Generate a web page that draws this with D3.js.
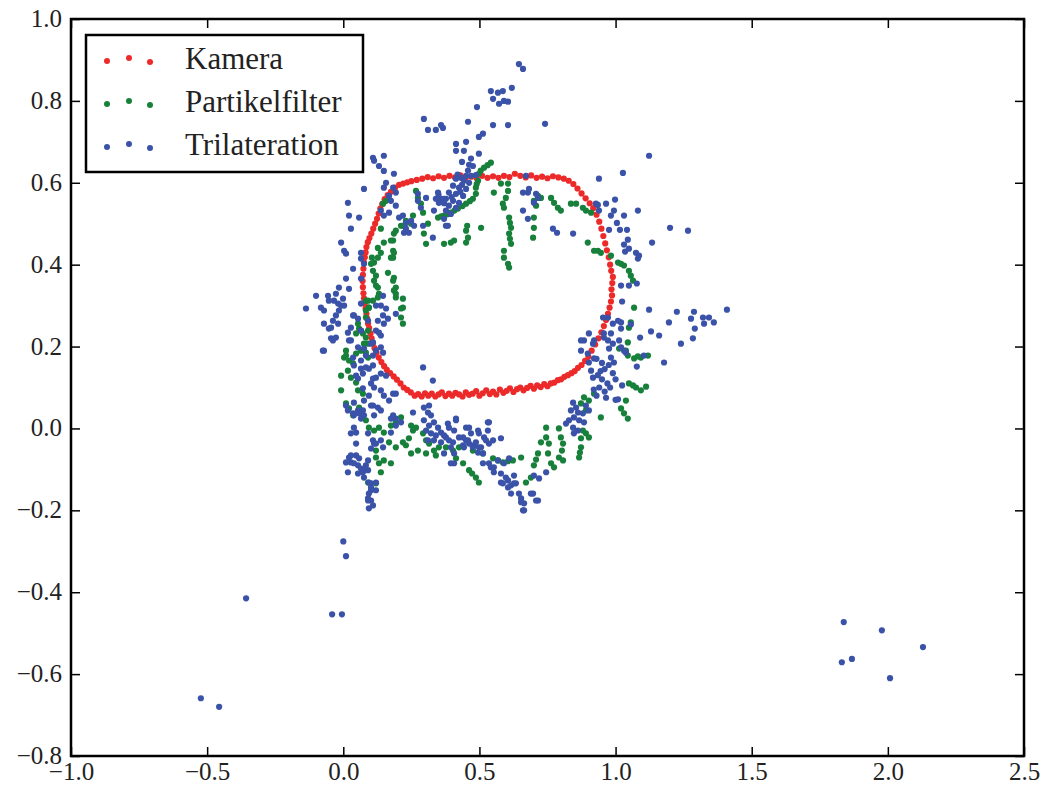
<!DOCTYPE html>
<html>
<head>
<meta charset="utf-8">
<script src="https://cdn.jsdelivr.net/npm/d3@7"></script>
<style>
body { margin: 0; background: #fff; }
svg { font-family: "Liberation Serif", "DejaVu Serif", serif; }
</style>
</head>
<body>
<svg width="1047" height="786"></svg>
<script>
// tick values
var xTicks = [-1.0, -0.5, 0.0, 0.5, 1.0, 1.5, 2.0, 2.5];
var yTicks = [-0.8, -0.6, -0.4, -0.2, 0.0, 0.2, 0.4, 0.6, 0.8, 1.0];
var seriesNames = ["Kamera", "Partikelfilter", "Trilateration"];
var seriesColors = ["#ec2a2a", "#17803b", "#3a52a8"];

// camera track
var kamera = [
[0.205,0.595],[0.19,0.588],[0.175,0.578],[0.163,0.57],[0.152,0.56],[0.143,0.548],[0.136,0.537],[0.13,0.525],[0.124,0.512],[0.117,0.5],[0.11,0.488],[0.103,0.476],[0.096,0.465],[0.09,0.455],[0.085,0.443],[0.082,0.43],[0.079,0.418],[0.076,0.405],[0.074,0.39],[0.072,0.375],[0.071,0.36],[0.072,0.345],[0.074,0.33],[0.076,0.318],[0.079,0.305],[0.082,0.293],[0.085,0.28],[0.088,0.268],[0.091,0.256],[0.095,0.245],[0.1,0.232],[0.104,0.22],[0.109,0.208],[0.115,0.196],[0.122,0.185],[0.13,0.173],[0.14,0.162],[0.15,0.152],[0.16,0.143],[0.172,0.135],[0.185,0.127],[0.197,0.119],[0.21,0.11],[0.222,0.1],[0.235,0.094],[0.248,0.088],
[0.262,0.080],[0.275,0.084],[0.288,0.078],[0.300,0.086],[0.312,0.080],[0.325,0.085],[0.338,0.078],[0.350,0.083],[0.362,0.088],[0.375,0.079],[0.388,0.085],[0.400,0.080],[0.412,0.087],[0.425,0.083],[0.438,0.078],[0.450,0.088],[0.462,0.082],[0.475,0.085],[0.488,0.091],[0.500,0.080],[0.512,0.086],[0.525,0.093],[0.538,0.084],[0.550,0.090],[0.562,0.083],[0.575,0.095],[0.588,0.087],[0.600,0.092],[0.612,0.098],[0.625,0.089],[0.638,0.096],[0.650,0.100],[0.662,0.093],[0.675,0.099],[0.688,0.104],[0.700,0.097],[0.712,0.105],[0.725,0.101],[0.738,0.108],[0.750,0.103],[0.762,0.110],[0.775,0.112],[0.788,0.118],[0.800,0.120],[0.812,0.126],[0.825,0.130],[0.838,0.135],[0.850,0.140],[0.862,0.148],[0.875,0.155],[0.888,0.165],
[0.9,0.175],[0.912,0.19],[0.925,0.205],[0.937,0.22],[0.948,0.235],[0.957,0.25],[0.965,0.265],[0.972,0.28],[0.978,0.295],[0.983,0.31],[0.987,0.325],[0.985,0.34],[0.988,0.355],[0.99,0.37],[0.984,0.385],[0.98,0.4],[0.975,0.418],[0.968,0.435],[0.962,0.452],[0.955,0.47],[0.948,0.488],[0.94,0.505],[0.93,0.522],[0.918,0.538],[0.905,0.55],[0.89,0.562],[0.875,0.574],[0.86,0.586],[0.845,0.597],[0.828,0.605],[0.81,0.61],
[0.79,0.613],[0.77,0.616],[0.75,0.611],[0.73,0.615],[0.71,0.612],[0.69,0.618],[0.67,0.613],[0.65,0.617],[0.63,0.622],[0.61,0.614],[0.59,0.617],[0.57,0.612],[0.55,0.616],[0.53,0.612],[0.51,0.617],[0.49,0.611],[0.47,0.615],[0.45,0.612],[0.43,0.618],[0.41,0.613],[0.39,0.617],[0.37,0.612],[0.35,0.616],[0.33,0.611],[0.31,0.614],[0.29,0.61],[0.27,0.607],[0.25,0.604],[0.235,0.601],[0.22,0.598]
];

// particle filter estimate
var partikelfilter = [
[0.542,0.649],[0.53,0.643],[0.517,0.637],[0.505,0.63],[0.498,0.622],[0.495,0.605],[0.49,0.597],[0.487,0.588],[0.487,0.573],[0.476,0.561],[0.465,0.555],[0.451,0.549],[0.438,0.543],[0.421,0.537],[0.408,0.532],[0.395,0.527],[0.382,0.523],[0.370,0.520],[0.36,0.518],[0.348,0.515],
[0.267,0.580],[0.274,0.563],[0.285,0.549],[0.311,0.500],[0.296,0.476],[0.304,0.451],[0.249,0.500],[0.230,0.507],[0.212,0.495],[0.193,0.483],[0.186,0.476],[0.149,0.454],[0.138,0.429],[0.127,0.417],[0.113,0.405],[0.109,0.385],[0.113,0.361],[0.127,0.344],[0.131,0.329],[0.183,0.459],[0.183,0.434],[0.183,0.417],[0.164,0.380],[0.183,0.361],[0.186,0.337],[0.193,0.320],[0.219,0.317],[0.212,0.293],[0.212,0.271],[0.146,0.549],[0.157,0.556],[0.138,0.488],[0.293,0.527],[0.256,0.520],[0.219,0.495],[0.175,0.459],[0.186,0.429],[0.12,0.373],[0.12,0.349],[0.102,0.402],[0.127,0.441],[0.105,0.417],[0.175,0.417],[0.186,0.368],[0.193,0.344],
[0.370,0.451],[0.395,0.454],[0.407,0.459],[0.451,0.483],[0.458,0.466],[0.451,0.454],[0.506,0.490],[0.455,0.495],[0.553,0.576],[0.579,0.598],[0.605,0.598],[0.605,0.580],[0.597,0.563],[0.586,0.549],[0.590,0.539],[0.609,0.515],[0.616,0.490],[0.609,0.476],[0.616,0.451],[0.590,0.434],[0.590,0.417],[0.605,0.402],[0.609,0.393],[0.612,0.502],[0.612,0.463],[0.700,0.556],[0.708,0.544],[0.700,0.515],[0.700,0.490],[0.697,0.466],[0.715,0.568],[0.726,0.563],[0.763,0.563],[0.774,0.551],[0.788,0.539],[0.799,0.532],[0.836,0.549],[0.855,0.549],[0.880,0.539],[0.910,0.527],[0.891,0.532],
[0.898,0.454],[0.921,0.434],[0.946,0.429],[0.983,0.422],[0.935,0.434],[1.009,0.405],[1.031,0.398],[1.049,0.385],[1.064,0.361],[1.056,0.373],[1.02,0.402],[1.068,0.295],[1.049,0.246],[1.056,0.259],[1.045,0.210],[1.013,0.195],[1.038,0.190],[1.045,0.178],[1.068,0.171],[1.093,0.173],[1.119,0.178],[1.082,0.176],[1.049,0.110],[1.075,0.100],[1.093,0.093],[1.112,0.102],[1.064,0.105],[1.038,0.068],[1.020,0.049],[1.031,0.037],[1.045,0.024],[0.946,0.027],[0.884,0.076],[0.902,0.068],[0.921,0.085],[0.873,0.061],[0.891,0.044],
[0.880,-0.005],[0.873,-0.024],[0.873,-0.046],[0.866,-0.071],[0.891,-0.012],[0.902,-0.022],[0.869,-0.059],[0.792,0],[0.799,-0.022],[0.807,-0.037],[0.807,-0.078],[0.792,-0.071],[0.803,-0.054],[0.745,0.002],[0.745,-0.022],[0.726,-0.034],[0.715,-0.061],[0.700,-0.090],[0.689,-0.120],[0.671,-0.132],[0.708,-0.076],[0.755,-0.037],[0.752,-0.061],[0.763,-0.085],[0.774,-0.095],
[0.377,-0.046],[0.403,-0.054],[0.414,-0.073],[0.440,-0.085],[0.462,-0.102],[0.487,-0.120],[0.498,-0.132],[0.473,-0.11],[0.425,-0.046],[0.476,-0.054],[0.513,-0.061],[0.550,-0.073],[0.586,-0.083],[0.623,-0.078],[0.653,-0.071],[0.605,-0.08],[0.568,-0.078],
[0.083,0.312],[0.083,0.288],[0.094,0.295],[0.109,0.312],[0.127,0.320],[0.193,0.329],[0.219,0.295],[0.219,0.256],[0.058,0.244],[0.072,0.232],[0.083,0.222],[0.091,0.207],[0.083,0.185],[0.091,0.173],[0.010,0.190],[0.003,0.173],[0.021,0.166],[0.036,0.159],[0.017,0.141],[-0.008,0.129],[0.028,0.124],[0.047,0.112],[0.054,0.093],[0.072,0.085],[-0.008,0.093],[0.010,0.061],[0.021,0.049],[0.036,0.032],[0.058,0.051],[0.083,0.020],[0.094,0.002],[0.113,-0.005],[0.131,0.002],[0.149,-0.010],[0.175,0.007],[0.193,0.015],[0.212,0.027],[0.120,-0.054],[0.120,-0.071],[0.131,-0.085],[0.138,-0.107],[0.149,-0.078],[0.175,-0.085],[0.091,-0.132],[0.120,-0.134],[0.168,-0.034],[0.193,-0.046],[0.219,-0.034],[0.230,-0.041],[0.241,-0.024],[0.256,-0.005],[0.249,0.007],[0.267,0.002],[0.293,-0.012],[0.304,-0.029],[0.315,-0.037],[0.333,-0.054],[0.351,-0.046],[0.340,-0.066],[0.249,-0.061],[0.274,-0.054],[0.304,-0.061],
[0.091,0.312],[0.094,0.295],[0.083,0.271],[0.091,0.239],[0.076,0.207],[0.065,0.19],[0.047,0.183],[0.01,0.178],[0.065,0.239],[0.047,0.232],[0.054,0.256]
];

// trilateration fixes
var trilateration = [
[-0.523,-0.659],[-0.456,-0.680],[-0.357,-0.415],[0.0,-0.276],[0.01,-0.312],[-0.041,-0.454],[-0.005,-0.454],[1.838,-0.473],[1.831,-0.571],[1.868,-0.563],[1.978,-0.493],[2.008,-0.610],[2.129,-0.534],
[0.645,0.890],[0.660,0.878],[0.542,0.824],[0.568,0.820],[0.586,0.824],[0.619,0.832],[0.550,0.805],[0.572,0.793],[0.590,0.800],[0.605,0.798],[0.491,0.785],[0.458,0.749],[0.550,0.741],[0.605,0.741],[0.741,0.744],[0.513,0.720],[0.498,0.712],[0.414,0.695],[0.451,0.700],[0.414,0.678],[0.443,0.678],[0.498,0.671],[0.436,0.651],[0.469,0.659],[0.462,0.644],[0.476,0.641],[0.296,0.756],[0.311,0.729],[0.340,0.729],[0.366,0.734],[0.359,0.741],
[0.451,0.617],[0.432,0.612],[0.469,0.617],[0.487,0.619],[0.414,0.610],[0.443,0.605],[0.462,0.600],[0.403,0.593],[0.425,0.588],[0.451,0.585],[0.388,0.576],[0.414,0.573],[0.440,0.568],[0.377,0.561],[0.403,0.556],[0.425,0.551],[0.388,0.544],[0.414,0.539],[0.377,0.532],[0.395,0.524],[0.384,0.495],[0.436,0.595],[0.420,0.62],[0.458,0.63],[0.398,0.565],[0.43,0.578],[0.37,0.55],[0.36,0.56],[0.35,0.57],[0.333,0.532],[0.340,0.561],[0.351,0.551],[0.370,0.561],[0.329,0.466],[0.293,0.495],[0.274,0.556],
[0.671,0.617],[0.678,0.576],[0.660,0.576],[0.682,0.585],[0.708,0.573],[0.715,0.563],[0.700,0.551],[0.660,0.532],[0.678,0.512],[0.770,0.488],[0.785,0.478],[0.844,0.476],[0.348,0.576],[0.377,0.495],[0.370,0.512],
[0.109,0.661],[0.113,0.654],[0.149,0.666],[0.131,0.641],[0.149,0.629],[0.157,0.600],[0.186,0.622],[0.183,0.588],[0.193,0.576],[0.168,0.568],[0.076,0.585],[0.017,0.551],[0.021,0.520],[0.058,0.515],[0.028,0.488],[-0.008,0.454],[0.003,0.434],[0.010,0.427],[0.065,0.429],[0.036,0.390],[0.065,0.415],[0.076,0.402],[0.010,0.366],[-0.016,0.344],[0.138,0.532],[0.149,0.520],[0.168,0.527],[0.193,0.544],[0.219,0.520],[0.230,0.502],[0.249,0.507],[0.260,0.495],[0.230,0.488],[0.241,0.478],[0.149,0.588],[0.175,0.556],[0.205,0.515],[0.223,0.478],[0.274,0.573],[0.285,0.539],[0.304,0.563],
[0.065,0.366],[0.021,0.341],[-0.001,0.317],[-0.034,0.312],[-0.027,0.329],[-0.056,0.324],[-0.100,0.324],[-0.137,0.293],[-0.082,0.295],[-0.071,0.288],[-0.053,0.312],[-0.019,0.305],[-0.008,0.300],[0.003,0.300],[-0.016,0.288],[-0.027,0.276],[-0.071,0.256],[-0.038,0.263],[-0.019,0.256],[-0.053,0.244],[-0.045,0.220],[-0.038,0.215],[-0.075,0.190],[0.017,0.234],[0.028,0.215],[0.054,0.268],[0.039,0.276],[0.065,0.305],[0.091,0.263],[0.120,0.300],[0.146,0.324],[0.138,0.300],[0.157,0.293],[0.146,0.276],[0.164,0.268],[0.193,0.280],[0.149,0.256],[0.120,0.239],[0.138,0.227],[0.109,0.210],[0.120,0.190],[0.146,0.185],[0.054,0.198],[0.076,0.195],[0.083,0.178],[0.065,0.166],[0.036,0.173],[0.039,0.154],[0.065,0.146],[0.083,0.149],[0.109,0.154],[0.072,0.134],[0.109,0.122],[0.120,0.124],[0.138,0.134],[0.157,0.129],[0.054,0.122],[0.113,0.100],[0.149,0.080],[0.183,0.085],[0.168,0.068],[0.094,0.080],[0.039,0.063],[0.054,0.044],[0.039,0.032],[0.058,0.037],[0.072,0.044],[0.076,0.032],[0.065,0.024],[0.039,0.002],[0.028,-0.012],[0.109,0.056],[0.183,0.032],[0.193,0.024],[0.109,-0.029],[0.113,-0.037],[0.047,-0.037],[0.102,-0.049],[0.146,-0.046],[0.047,-0.066],[0.021,-0.071],[0.028,-0.083],[0.010,-0.083],[0.054,-0.090],[0.065,-0.098],[0.083,-0.090],[0.072,-0.107],[0.054,-0.110],[0.017,-0.107],[0.091,-0.102],[0.102,-0.134],[0.120,-0.132],[0.102,-0.151],[0.120,-0.151],[0.091,-0.171],[0.109,-0.188],[0.094,-0.195],[0.102,-0.176],[0.256,0.039],[0.293,0.149],[0.329,0.117],
[0.036,0.276],[0.028,0.246],[-0.045,0.246],[-0.071,0.190],[-0.027,0.222],[0.065,0.239],[0.127,0.263],[0.131,0.234],[0.102,0.207],[0.109,0.178],[0.138,0.198],[0.021,0.215],[0.094,0.146],[0.047,0.129],[0.102,0.110],[0.072,0.098],[0.138,0.093],[0.193,0.085],[0.076,0.068],[0.010,0.056],[0.017,0.044],[0.036,0.037],[0.102,0.056],[0.127,0.051],[0.138,0.044],[0.113,0.032],[0.047,-0.010],[0.091,-0.012],[0.120,-0.037],[0.138,-0.029],[0.175,-0.010],[0.193,0.007],[0.175,0.024],[0.212,0.015],[0.028,-0.066],[0.039,-0.085],[0.076,-0.102],[0.091,-0.078],[0.058,-0.073],[0.076,-0.120],[0.094,-0.132],[0.102,-0.144],[0.094,-0.159],[0.091,-0.176],
[0.296,0.051],[0.315,0.056],[0.311,0.039],[0.322,0.032],[0.296,0.020],[0.315,0.007],[0.333,0.015],[0.348,0.002],[0.304,-0.005],[0.322,-0.012],[0.340,-0.017],[0.359,-0.010],[0.370,-0.017],[0.311,-0.029],[0.333,-0.029],[0.359,-0.034],[0.388,-0.029],[0.407,-0.005],[0.414,0.020],[0.384,0.012],[0.451,0.002],[0.469,-0.012],[0.495,-0.005],[0.531,0.015],[0.517,-0.022],[0.535,-0.037],[0.458,-0.029],[0.480,-0.041],[0.506,-0.046],[0.443,-0.046],[0.440,-0.022],[0.495,-0.059],[0.395,-0.046],[0.407,-0.061],[0.370,-0.061],[0.407,-0.085],[0.513,-0.085],[0.542,-0.095],[0.553,-0.107],[0.579,-0.110],[0.579,-0.132],[0.605,-0.127],[0.616,-0.139],[0.627,-0.134],[0.609,-0.073],[0.653,-0.171],[0.664,-0.183],[0.697,-0.159],[0.715,-0.176],[0.660,-0.200],
[0.388,0.002],[0.414,0.024],[0.377,-0.022],[0.403,-0.034],[0.425,-0.022],[0.440,-0.041],[0.451,-0.029],[0.462,-0.037],[0.476,-0.046],[0.487,-0.034],[0.498,-0.046],[0.462,0.002],[0.498,-0.012],[0.535,0.015],[0.524,-0.029],[0.513,-0.061],[0.531,-0.005],[0.395,-0.085],[0.550,-0.029],[0.579,-0.024],[0.553,-0.095],[0.535,-0.085],[0.568,-0.078],[0.590,-0.085],[0.597,-0.120],[0.586,-0.134],[0.605,-0.144],[0.627,-0.115],[0.634,-0.134],[0.616,-0.159],[0.645,-0.159],[0.653,-0.180],[0.664,-0.200],[0.689,-0.159],[0.708,-0.176],[0.700,-0.115],[0.719,-0.122],[0.745,-0.107],
[0.902,0.232],[0.873,0.215],[0.917,0.207],[0.898,0.183],[0.921,0.171],[0.902,0.161],[0.910,0.141],[0.917,0.124],[0.844,0.063],[0.855,0.051],[0.836,0.044],[0.862,0.039],[0.880,0.037],[0.847,0.027],[0.866,0.020],[0.884,0.015],[0.829,0.020],[0.818,0.012],[0.844,0.002],[0.862,-0.005],[0.847,-0.012],[0.891,0.056],[0.902,0.044],
[0.93,0.17],[0.95,0.16],[0.96,0.145],[0.935,0.13],[0.95,0.12],[0.97,0.11],[0.94,0.1],[0.96,0.09],[0.93,0.08],[0.98,0.1],[0.99,0.135],[1.0,0.12],[0.92,0.095],[0.945,0.14],[0.975,0.155],[1.0,0.07],[0.965,0.075],
[1.024,0.105],[1.009,0.071],[0.983,0.173],[0.994,0.161],[1.038,0.185],[1.013,0.215],[1.020,0.259],[1.020,0.244],[1.056,0.254],[1.024,0.310],
[0.957,0.232],[0.921,0.215],[0.884,0.215],[0.873,0.190],[0.972,0.271],[1.009,0.263],[0.990,0.256],[0.972,0.215],[0.990,0.207],[0.976,0.195],[1.020,0.198],[1.031,0.190],[0.954,0.271],[0.983,0.232],[0.957,0.222],
[1.123,0.290],[1.225,0.285],[1.288,0.285],[1.409,0.290],[1.196,0.259],[1.277,0.268],[1.321,0.271],[1.343,0.271],[1.361,0.259],[1.325,0.256],[1.291,0.244],[1.130,0.237],[1.160,0.227],[1.090,0.222],[1.284,0.220],[1.240,0.207],[1.178,0.161],[1.104,0.178],[1.078,0.151],
[1.123,0.666],[1.027,0.624],[0.939,0.610],[0.935,0.546],[0.965,0.549],[0.998,0.559],[0.939,0.532],[1.082,0.532],[0.983,0.520],[0.994,0.532],[1.005,0.502],[1.031,0.520],[0.976,0.485],[1.016,0.485],[1.042,0.485],[1.200,0.490],[1.266,0.483],[1.045,0.461],[1.134,0.454],[1.031,0.449],[1.049,0.439],[1.035,0.432],[1.075,0.429],[1.086,0.422],[1.082,0.415],[1.020,0.349],[1.049,0.349],[1.078,0.354],[0.928,0.549]
];

var series = [kamera, partikelfilter, trilateration];

var svg = d3.select("svg");
var plotLeft = 71, plotRight = 1024, plotTop = 19, plotBottom = 756;

var x = d3.scaleLinear().domain([-1.0, 2.5]).range([plotLeft, plotRight]);
var y = d3.scaleLinear().domain([-0.8, 1.0]).range([plotBottom, plotTop]);
var fmt = d3.format(".1f");

// points, one group per series (blue drawn last, on top)
series.forEach(function(data, i){
  svg.append("g")
    .selectAll("circle")
    .data(data)
    .enter()
    .append("circle")
    .attr("cx", function(d){ return x(d[0]); })
    .attr("cy", function(d){ return y(d[1]); })
    .attr("r", 3.1)
    .style("fill", seriesColors[i]);
});

// axes, ticks point inwards like the old matplotlib style
var xAxis = svg.append("g")
  .attr("transform", "translate(0," + plotBottom + ")")
  .call(d3.axisBottom(x).tickValues(xTicks).tickFormat(fmt).tickSize(-9).tickPadding(6));
var yAxis = svg.append("g")
  .attr("transform", "translate(" + plotLeft + ",0)")
  .call(d3.axisLeft(y).tickValues(yTicks).tickFormat(fmt).tickSize(-9).tickPadding(9));
var xTop = svg.append("g")
  .attr("transform", "translate(0," + plotTop + ")")
  .call(d3.axisTop(x).tickValues(xTicks).tickFormat("").tickSize(-9));
var yRight = svg.append("g")
  .attr("transform", "translate(" + plotRight + ",0)")
  .call(d3.axisRight(y).tickValues(yTicks).tickFormat("").tickSize(-9));

[xAxis, yAxis, xTop, yRight].forEach(function(g){
  g.select(".domain").remove();
  g.selectAll(".tick line").attr("stroke", "#000").attr("stroke-width", 1.5);
  g.selectAll(".tick text")
    .attr("fill", "#222")
    .style("font-family", '"Liberation Serif", "DejaVu Serif", serif')
    .style("font-size", "25px");
});
yAxis.selectAll(".tick text").attr("dy", "0.3em");

// frame
svg.append("rect")
  .attr("x", plotLeft).attr("y", plotTop)
  .attr("width", plotRight - plotLeft).attr("height", plotBottom - plotTop)
  .attr("fill", "none")
  .attr("stroke", "#000")
  .attr("stroke-width", 2.5);

// legend
var legend = svg.append("g");
legend.append("rect")
  .attr("x", 86).attr("y", 35)
  .attr("width", 277).attr("height", 137)
  .attr("fill", "#fff")
  .attr("stroke", "#000")
  .attr("stroke-width", 2.5);

var markerX = [107, 129, 150];
var markerDy = [1, -2, 2];
seriesNames.forEach(function(name, i){
  var cy = 60 + i * 43;
  markerX.forEach(function(mx, j){
    legend.append("circle")
      .attr("cx", mx).attr("cy", cy + markerDy[j])
      .attr("r", 3)
      .style("fill", seriesColors[i]);
  });
  legend.append("text")
    .attr("x", 185).attr("y", cy + 9)
    .attr("fill", "#222")
    .style("font-size", "31px")
    .text(name);
});
</script>
</body>
</html>
